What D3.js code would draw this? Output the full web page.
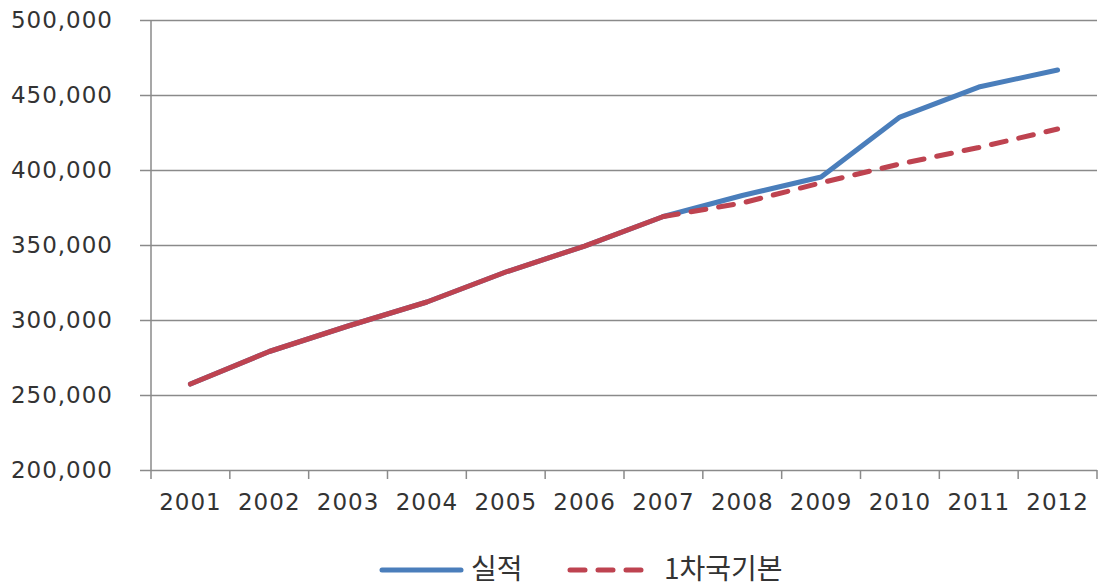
<!DOCTYPE html>
<html>
<head>
<meta charset="utf-8">
<script src="https://cdn.jsdelivr.net/npm/d3@7"></script>
<style>
  html, body { margin: 0; padding: 0; background: #fff; }
  svg { display: block; }
  .tick text { font-family: "DejaVu Sans", Verdana, sans-serif; fill: #333; letter-spacing: 1px; }
</style>
</head>
<body>
<svg id="chart" width="1098" height="586"></svg>
<script>
// Years on the category axis
const years = ["2001","2002","2003","2004","2005","2006","2007","2008","2009","2010","2011","2012"];
// 실적 (actual)
const actual = [257300, 279000, 296000, 312000, 332000, 349300, 369000, 383000, 395300, 435300, 455300, 466700];
// 1차국기본 (plan): identical to actual through 2007, projected afterwards
const plan = [257300, 279000, 296000, 312000, 332000, 349300, 369000, 378000, 391500, 404000, 415000, 427300];
const yTicks = [200000, 250000, 300000, 350000, 400000, 450000, 500000];
const seriesNames = ["실적", "1차국기본"];

const svg = d3.select("#chart");
const m = { left: 151, right: 1097, top: 20, bottom: 470 };

const x = d3.scaleBand().domain(years).range([m.left, m.right]);
const y = d3.scaleLinear().domain([200000, 500000]).range([m.bottom, m.top]);
const fmt = d3.format(",");

const blue = "#4a7ebb";
const red = "#be4350";
const grid = "#8a8a8a";

// horizontal gridlines with left tick marks
const yAxis = d3.axisLeft(y).tickValues(yTicks).tickFormat(fmt)
  .tickSize(-(m.right - m.left)).tickPadding(38);
const gy = svg.append("g").attr("transform", `translate(${m.left},0)`).call(yAxis);
gy.select(".domain").remove();
gy.selectAll(".tick line").attr("stroke", grid).attr("stroke-width", 1.5).attr("x1", -11);
gy.selectAll(".tick text").attr("font-size", 23);

// vertical value axis line
svg.append("line")
  .attr("x1", m.left).attr("x2", m.left)
  .attr("y1", y(500000)).attr("y2", y(200000))
  .attr("stroke", grid).attr("stroke-width", 1.5);

// category axis: ticks between categories
const gx = svg.append("g").attr("transform", `translate(0,${m.bottom})`)
  .call(d3.axisBottom(x).tickSize(0).tickPadding(24));
gx.select(".domain").remove();
gx.selectAll(".tick text").attr("font-size", 23);
const bounds = years.map(d => x(d)).concat([m.right]);
svg.append("g").selectAll("line").data(bounds).join("line")
  .attr("x1", d => d).attr("x2", d => d)
  .attr("y1", m.bottom).attr("y2", m.bottom + 9)
  .attr("stroke", grid).attr("stroke-width", 1.5);

const cx = d => x(d) + x.bandwidth() / 2;
const line = d3.line().x(d => cx(d.year)).y(d => y(d.v));

const actualPts = years.map((yr, i) => ({ year: yr, v: actual[i] }));
const planPts = years.map((yr, i) => ({ year: yr, v: plan[i] }));
const split = years.indexOf("2007");

svg.append("path").datum(actualPts).attr("d", line)
  .attr("fill", "none").attr("stroke", blue).attr("stroke-width", 5)
  .attr("stroke-linejoin", "round").attr("stroke-linecap", "round");

// shared history drawn solid, projection dashed
svg.append("path").datum(planPts.slice(0, split + 1)).attr("d", line)
  .attr("fill", "none").attr("stroke", red).attr("stroke-width", 5)
  .attr("stroke-linejoin", "round").attr("stroke-linecap", "round");
svg.append("path").datum(planPts.slice(split)).attr("d", line)
  .attr("fill", "none").attr("stroke", red).attr("stroke-width", 5)
  .attr("stroke-dasharray", "15,13").attr("stroke-linecap", "round");

// legend
const lg = svg.append("g").attr("font-family", "'Noto Sans CJK KR', 'DejaVu Sans', sans-serif")
  .attr("font-size", 28).attr("fill", "#333");
lg.append("line").attr("x1", 382).attr("x2", 461).attr("y1", 570).attr("y2", 570)
  .attr("stroke", blue).attr("stroke-width", 5).attr("stroke-linecap", "round");
lg.append("text").attr("x", 471).attr("y", 579).text(seriesNames[0]);
lg.append("line").attr("x1", 570).attr("x2", 646).attr("y1", 570).attr("y2", 570)
  .attr("stroke", red).attr("stroke-width", 5).attr("stroke-linecap", "round")
  .attr("stroke-dasharray", "15,13");
lg.append("text").attr("x", 664).attr("y", 579).text(seriesNames[1]);
</script>
</body>
</html>
